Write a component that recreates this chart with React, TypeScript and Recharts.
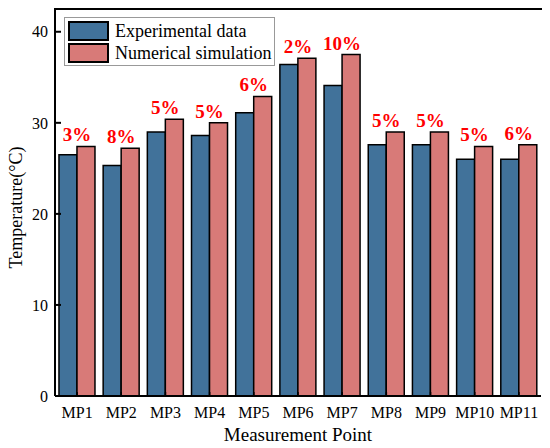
import { BarChart, Bar, XAxis, YAxis, Legend, LabelList } from 'recharts';

const categories = ['MP1', 'MP2', 'MP3', 'MP4', 'MP5', 'MP6', 'MP7', 'MP8', 'MP9', 'MP10', 'MP11'];
const experimental = [26.5, 25.3, 29.0, 28.6, 31.1, 36.4, 34.1, 27.6, 27.6, 26.0, 26.0];
const simulation = [27.4, 27.2, 30.4, 30.0, 32.9, 37.1, 37.5, 29.0, 29.0, 27.4, 27.6];
const errors = ['3%', '8%', '5%', '5%', '6%', '2%', '10%', '5%', '5%', '5%', '6%'];
const yTicks = [0, 10, 20, 30, 40];
const yMax = 42.5;

const data = categories.map((name, i) => ({
    name,
    experimental: experimental[i],
    simulation: simulation[i],
    error: errors[i],
}));

const FONT = '"Liberation Serif", "Times New Roman", serif';
const BLUE = '#41729a';
const RED = '#d87a78';

const ErrorLabel = (props: any) => {
    const { x, y, index } = props;
    return (
        <text x={x} y={y - 5} textAnchor="middle" fill="#ff0000" fontWeight="bold"
            fontSize={19} fontFamily={FONT}>
            {errors[index]}
        </text>
    );
};

const YTitle = (props: any) => {
    const vb = props.viewBox || { y: 9, height: 387 };
    const cy = vb.y + vb.height / 2 + 5;
    return (
        <text x={22} y={cy} transform={`rotate(-90, 22, ${cy})`} textAnchor="middle"
            fontSize={18} fontFamily={FONT} fill="#000">
            Temperature(°C)
        </text>
    );
};

const LegendBox = () => {
    const row = (color: string, text: string) => (
        <div style={{ display: 'flex', alignItems: 'center', height: 21, marginBottom: 1 }}>
            <div style={{ width: 37, height: 16, flex: 'none', background: color, border: '2px solid #000', marginRight: 6 }} />
            <span style={{ fontSize: 18, fontFamily: FONT, color: '#000', lineHeight: '18px', whiteSpace: 'nowrap' }}>{text}</span>
        </div>
    );
    return (
        <div style={{ border: '1px solid #999', background: '#fff', padding: '2px 3px 1px 3px', boxSizing: 'border-box', width: 211 }}>
            {row(BLUE, 'Experimental data')}
            {row(RED, 'Numerical simulation')}
        </div>
    );
};

export default function App() {
    return (
        <div style={{ position: 'absolute', left: 0, top: 0, width: 550, height: 448, background: '#fff' }}>
            <BarChart
                width={550}
                height={448}
                data={data}
                margin={{ top: 9, right: 9, left: 0, bottom: 0 }}
                barCategoryGap="9%"
                barGap={0}
            >
                <XAxis
                    dataKey="name"
                    height={52}
                    axisLine={{ stroke: '#000', strokeWidth: 2 }}
                    tickLine={{ stroke: '#000', strokeWidth: 1.5 }}
                    tickSize={-4}
                    tickMargin={15}
                    tick={{ fontSize: 16, fontFamily: FONT, fill: '#000' }}
                    interval={0}
                    label={{ value: 'Measurement Point', position: 'insideBottom', offset: 7, fontSize: 19, fontFamily: FONT, fill: '#000' }}
                />
                <YAxis
                    width={55}
                    domain={[0, yMax]}
                    ticks={yTicks}
                    allowDataOverflow
                    axisLine={{ stroke: '#000', strokeWidth: 2 }}
                    tickLine={{ stroke: '#000', strokeWidth: 2 }}
                    tickSize={-6}
                    tickMargin={13}
                    tick={{ fontSize: 16, fontFamily: FONT, fill: '#000' }}
                    label={<YTitle />}
                />
                {/* right edge of the frame */}
                <YAxis
                    yAxisId="right"
                    orientation="right"
                    width={0}
                    domain={[0, yMax]}
                    tick={false}
                    tickLine={false}
                    axisLine={{ stroke: '#000', strokeWidth: 2 }}
                />
                <Legend
                    layout="vertical"
                    verticalAlign="middle"
                    align="center"
                    wrapperStyle={{ position: 'absolute', left: 64, top: 17, width: 211, right: 'auto', bottom: 'auto' }}
                    content={<LegendBox />}
                />
                <Bar dataKey="experimental" fill={BLUE} stroke="#000" strokeWidth={1.5} isAnimationActive={false} />
                <Bar dataKey="simulation" fill={RED} stroke="#000" strokeWidth={1.5} isAnimationActive={false}>
                    <LabelList dataKey="error" content={<ErrorLabel />} />
                </Bar>
            </BarChart>
            {/* top edge of the frame */}
            <div style={{ position: 'absolute', left: 54, top: 8, width: 488, height: 2, background: '#000', zIndex: 2 }} />
        </div>
    );
}
